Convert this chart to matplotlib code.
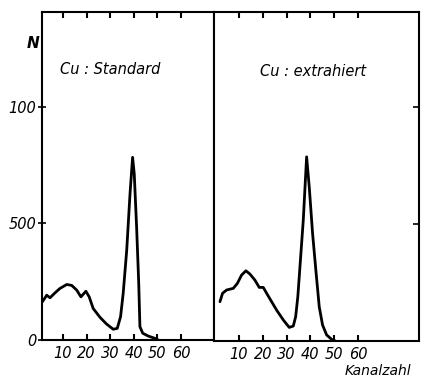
import matplotlib
matplotlib.use("Agg")
import matplotlib.pyplot as plt

# Data
std_ch = [1.2, 3.1, 4.5, 6.6, 8.7, 11.6, 13.7, 15.8, 17.6, 19.7, 21.1, 22.8, 25.7, 28.5,
          31.3, 33.0, 34.4, 35.5, 37.0, 38.4, 39.5, 40.2, 41.2, 42.1, 42.6, 43.8, 46.1, 49.0, 50.4]
std_n = [163, 192, 181, 202, 221, 238, 234, 214, 185, 209, 185, 135, 97, 68,
         46, 50, 100, 199, 384, 626, 783, 712, 484, 242, 57, 29, 17, 7, 0]

ext_ch = [2.0, 3.1, 4.8, 7.6, 9.3, 11.1, 12.9, 14.6, 16.7, 18.5, 20.2, 21.6, 23.7, 25.8,
          28.6, 31.1, 32.8, 33.8, 34.7, 35.6, 37.0, 38.4, 39.5, 40.9, 42.4, 43.7, 45.1,
          46.8, 48.9, 50.3]
ext_n = [168, 204, 218, 225, 246, 282, 300, 286, 260, 229, 229, 204, 168, 132,
         90, 58, 64, 104, 189, 317, 517, 787, 659, 460, 289, 146, 68, 26, 7, 1]

x_ticks = [10, 20, 30, 40, 50, 60]
y_ticks = [0, 500, 1000]
y_tick_labels = ["0", "500", "100"]

fig = plt.figure(figsize=(4.23, 3.79), dpi=100)
W, H = 423, 379

def frac(l, t, r, b):
    return [l / W, 1 - b / H, (r - l) / W, (b - t) / H]

font = dict(family="DejaVu Sans", style="italic")

ax1 = fig.add_axes(frac(42, 12, 214, 340))
ax2 = fig.add_axes(frac(214, 12, 419, 341))

for ax in (ax1, ax2):
    for s in ax.spines.values():
        s.set_linewidth(1.5)
    ax.set_ylim(0, 1406)
    ax.set_xticks(x_ticks)
    ax.set_xticklabels([str(v) for v in x_ticks], fontsize=10.5, **font)
    ax.tick_params(axis="x", direction="in", length=4, width=1.5, top=True, pad=4)

ax1.plot(std_ch, std_n, color="black", lw=2.0, solid_capstyle="round", solid_joinstyle="round")
ax1.set_xlim(1.1, 74)
ax1.set_yticks(y_ticks)
ax1.set_yticklabels(y_tick_labels, fontsize=10.5, **font)
ax1.tick_params(axis="y", direction="inout", length=6, width=1.2, pad=1)

ax2.plot(ext_ch, ext_n, color="black", lw=2.0, solid_capstyle="round", solid_joinstyle="round")
ax2.set_xlim(-0.5, 85.6)
ax2.set_yticks([500, 1000])
ax2.tick_params(axis="y", left=False, labelleft=False, right=True, direction="in",
                length=4, width=1.2)

fig.text(33 / W, 1 - 43 / H, "N", fontsize=11, fontweight="bold", ha="center", va="center", **font)
fig.text(60 / W, 1 - 70 / H, "Cu : Standard", fontsize=10.5, ha="left", va="center", **font)
fig.text(260 / W, 1 - 72 / H, "Cu : extrahiert", fontsize=10.5, ha="left", va="center", **font)
fig.text(378 / W, 1 - 371 / H, "Kanalzahl", fontsize=10, ha="center", va="center", **font)

fig.savefig("out.png", dpi=100)
